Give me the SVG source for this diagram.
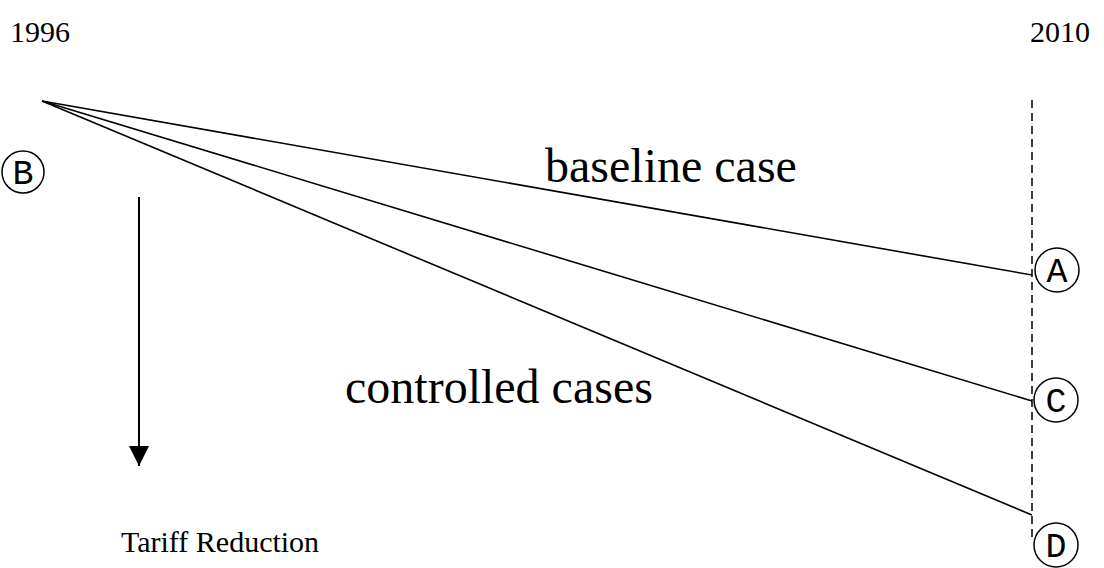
<svg xmlns="http://www.w3.org/2000/svg" width="1104" height="568" viewBox="0 0 1104 568">
  <style>
    .serif { font-family: "Liberation Serif", "Times New Roman", serif; fill: #000; }
    .mono { font-family: "Liberation Mono", "Courier New", monospace; fill: #000; font-size: 35px; text-anchor: middle; }
    .ring { fill: #fff; stroke: #000; stroke-width: 1.5; }
    .ray { stroke: #000; stroke-width: 1.6; fill: none; }
  </style>
  <defs>
    <marker id="head" viewBox="0 0 20 20" refX="20" refY="10" markerWidth="20" markerHeight="20" markerUnits="userSpaceOnUse" orient="auto">
      <path d="M0,0 L20,10 L0,20 Z" fill="#000"/>
    </marker>
  </defs>

  <rect width="1104" height="568" fill="#fff"/>

  <!-- year labels -->
  <text class="serif" x="10" y="42" font-size="30">1996</text>
  <text class="serif" x="1030" y="42" font-size="30">2010</text>

  <!-- connectors -->
  <g id="connectors">
    <line id="horizon" x1="1032" y1="100" x2="1032" y2="542" stroke="#000" stroke-width="1.5" stroke-dasharray="8,5"/>
    <line id="ray-a" class="ray" x1="42" y1="101" x2="1032" y2="275"/>
    <line id="ray-c" class="ray" x1="42" y1="101" x2="1032" y2="401"/>
    <line id="ray-d" class="ray" x1="42" y1="101" x2="1032" y2="515"/>
    <line id="tariff-arrow" x1="139" y1="197" x2="139" y2="466" stroke="#000" stroke-width="2" marker-end="url(#head)"/>
  </g>

  <!-- case labels -->
  <text class="serif" x="545" y="182" font-size="48">baseline case</text>
  <text class="serif" x="345" y="403" font-size="48">controlled cases</text>
  <text class="serif" x="121" y="552" font-size="30">Tariff Reduction</text>

  <g id="node-b">
    <circle class="ring" cx="23" cy="172" r="21"/>
    <text class="mono" x="23" y="184">B</text>
  </g>
  <g id="node-a">
    <circle class="ring" cx="1057" cy="270" r="22"/>
    <text class="mono" x="1057" y="282">A</text>
  </g>
  <g id="node-c">
    <circle class="ring" cx="1056" cy="400" r="22"/>
    <text class="mono" x="1056" y="412">C</text>
  </g>
  <g id="node-d">
    <circle class="ring" cx="1056" cy="545" r="22"/>
    <text class="mono" x="1056" y="557">D</text>
  </g>
</svg>
